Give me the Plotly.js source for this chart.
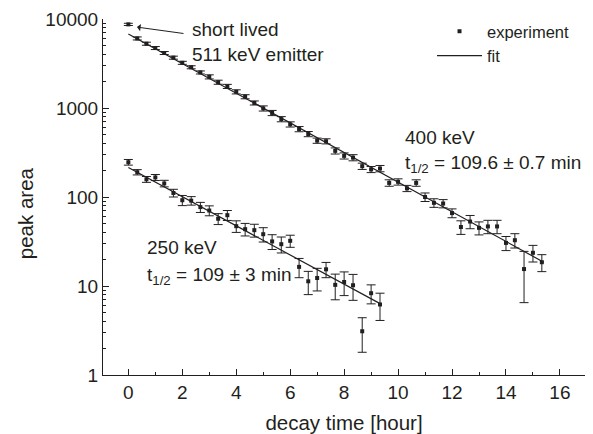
<!DOCTYPE html>
<html>
<head>
<meta charset="utf-8">
<script src="https://cdn.plot.ly/plotly-3.0.1.min.js"></script>
<style>html,body{margin:0;padding:0;background:#fff;}#chart{width:593px;height:434px;}</style>
</head>
<body>
<div id="chart"></div>
<script>
// ---- data ----
var x400 = [0.33,0.67,1,1.33,1.67,2,2.33,2.67,3,3.33,3.67,4,4.33,4.67,5,5.33,5.67,6,6.33,6.67,7,7.33,7.67,8,8.33,8.67,9,9.33,9.67,10,10.33,10.67,11,11.33,11.67,12,12.33,12.67,13,13.33,13.67,14,14.33,14.67,15,15.33];
var y400 = [6050,5280,4720,4150,3680,3220,2870,2510,2240,1950,1750,1520,1340,1140,990,880,750,655,580,510,430,423,330,290,277,222,204,209,144,148,125,144,100,86,84.5,66,46,53,45,46.7,46.7,30.5,32.7,15.5,23.6,18.5];
var e400 = [236,206,184,162,144,126,112,98,119,103,93,81,71,60,66,59,50,44,39,34,29,28,26,23,22,18,16,17,12,12,10,12,11,9.5,9,7.5,8,9,7.5,8,8,5.5,6,9,5,4];

var x250 = [0,0.33,0.67,1,1.33,1.67,2,2.33,2.67,3,3.33,3.67,4,4.33,4.67,5,5.33,5.67,6,6.33,6.67,7,7.33,7.67,8,8.33,8.67,9,9.33];
var y250 = [246,190,158,166,142,111,92,91,77,70.5,57,62.5,47,43.5,42.4,38.2,31.7,29.5,32.2,16.4,11.3,12.3,15.4,10.3,11.1,10.2,3.1,8.3,6.2];
var e250 = [18,13,12,13,12,11,12,10,10,9,8,8,7,7,7,7,6,6,5,4,3.3,3.5,3,3.3,3.3,3.3,1.3,2,2.1];

var xShort = [0];
var yShort = [8700];
var eShort = [250];

var fitX400 = [0, 15.4];
var fitY400 = [6800, 18.5];
var fitX250 = [0, 9.35];
var fitY250 = [215, 6.3];

var yTickVals = [1, 10, 100, 1000, 10000];
var yTickText = ['1', '10', '100', '1000', '10000'];
var xTickVals = [0, 2, 4, 6, 8, 10, 12, 14, 16];

// ---- styling ----
var ink = '#231f20';
var FONT = 'Liberation Sans, Arial, sans-serif';

function expTrace(x, y, e, show) {
  return {
    type: 'scatter', mode: 'markers', x: x, y: y,
    name: 'experiment', legendgroup: 'exp', showlegend: show,
    marker: {symbol: 'square', size: 4, color: ink},
    error_y: {type: 'data', array: e, visible: true, color: ink, thickness: 1, width: 4.5}
  };
}
function fitTrace(x, y, show) {
  return {
    type: 'scatter', mode: 'lines', x: x, y: y,
    name: 'fit', legendgroup: 'fit', showlegend: show,
    line: {color: ink, width: 1.2}
  };
}

var data = [
  expTrace(x400, y400, e400, true),
  expTrace(x250, y250, e250, false),
  expTrace(xShort, yShort, eShort, false),
  fitTrace(fitX400, fitY400, true),
  fitTrace(fitX250, fitY250, false)
];

function txt(text, x, y) {
  return {text: text, xref: 'paper', yref: 'paper', x: x, y: y,
    xanchor: 'left', yanchor: 'middle', align: 'left', showarrow: false,
    font: {family: FONT, size: 19, color: ink}};
}

var layout = {
  width: 593, height: 434,
  margin: {l: 103, r: 8, t: 18.5, b: 59},
  paper_bgcolor: '#fff', plot_bgcolor: '#fff',
  font: {family: FONT, size: 18, color: ink},
  showlegend: true,
  legend: {x: 0.6826, y: 1.014, xanchor: 'left', yanchor: 'top',
    bgcolor: 'rgba(0,0,0,0)', font: {family: FONT, size: 16.5, color: ink},
    tracegroupgap: 0, itemwidth: 45},
  xaxis: {
    range: [-0.94, 16.93], showgrid: false, zeroline: false,
    showline: true, linecolor: ink, linewidth: 1,
    ticks: 'inside', ticklen: 6, tickcolor: ink, tickwidth: 1,
    tickmode: 'array', tickvals: xTickVals,
    minor: {ticks: 'inside', ticklen: 3, tickcolor: ink, dtick: 1, tick0: 0},
    tickfont: {family: FONT, size: 19, color: ink},
    title: {text: 'decay time [hour]', font: {family: FONT, size: 20.5, color: ink}, standoff: 17}
  },
  yaxis: {
    type: 'log', range: [0, 4], showgrid: false, zeroline: false,
    showline: true, linecolor: ink, linewidth: 1,
    ticks: 'inside', ticklen: 6, tickcolor: ink, tickwidth: 1,
    tickmode: 'array', tickvals: yTickVals, ticktext: yTickText,
    minor: {ticks: 'inside', ticklen: 3, tickcolor: ink, dtick: 'D1'},
    tickfont: {family: FONT, size: 19, color: ink}
  },
  annotations: [
    {text: 'peak area', xref: 'paper', yref: 'paper', x: -0.1618, y: 0.4544,
     xanchor: 'center', yanchor: 'middle', textangle: -90, showarrow: false,
     font: {family: FONT, size: 20.5, color: ink}},
    txt('short lived<br>511 keV emitter', 0.1805, 0.9355),
    {x: 0.32, y: 3.909, xref: 'x', yref: 'y', text: '', showarrow: true,
     ax: 48, ay: 6.6, arrowhead: 1, arrowsize: 1.2, arrowwidth: 1, arrowcolor: ink},
    txt('400 keV', 0.6224, 0.6676),
    txt('t<sub>1/2</sub> = 109.6 ± 0.7 min', 0.6224, 0.593),
    txt('250 keV', 0.0871, 0.359),
    txt('t<sub>1/2</sub> = 109 ± 3 min', 0.0871, 0.277)
  ]
};

Plotly.newPlot('chart', data, layout, {displayModeBar: false, staticPlot: true});
</script>
</body>
</html>
